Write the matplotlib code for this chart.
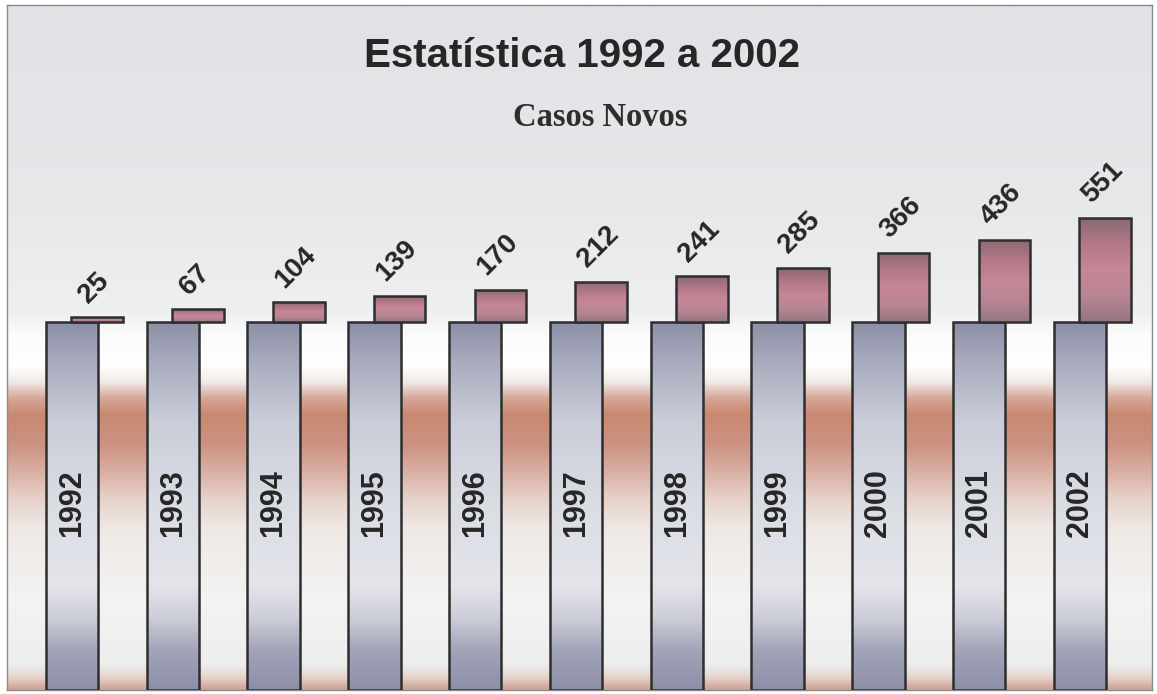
import numpy as np
import matplotlib
matplotlib.use("Agg")
import matplotlib.pyplot as plt
from matplotlib.colors import LinearSegmentedColormap

# --- DATA ---
years = ["1992", "1993", "1994", "1995", "1996", "1997",
         "1998", "1999", "2000", "2001", "2002"]
new_cases = [25, 67, 104, 139, 170, 212, 241, 285, 366, 436, 551]

title = "Estatística 1992 a 2002"
subtitle = "Casos Novos"

# --- LAYOUT (pixels of the 1157x694 canvas) ---
W, H = 1157, 694
AX_L, AX_R, AX_T, AX_B = 7, 1152, 5, 690
PX_PER_CASE = 0.189          # vertical scale of the pink boxes
BASE_TOP_PX = 322            # top of the grey pedestals
FIRST_X_PX, STEP_PX = 72, 100.8

PILLAR_W = 0.52
BOX_W = 0.51
BOX_OFF = 0.25

fig = plt.figure(figsize=(W / 100, H / 100), dpi=100)
ax = fig.add_axes([AX_L / W, 1 - AX_B / H, (AX_R - AX_L) / W, (AX_B - AX_T) / H])

y_top = (BASE_TOP_PX - AX_T) / PX_PER_CASE
y_bot = -(AX_B - BASE_TOP_PX) / PX_PER_CASE
x_lo = (AX_L - FIRST_X_PX) / STEP_PX
x_hi = (AX_R - FIRST_X_PX) / STEP_PX
ax.set_xlim(x_lo, x_hi)
ax.set_ylim(y_bot, y_top)


def px2y(py):
    return (BASE_TOP_PX - py) / PX_PER_CASE


def vgrad(stops):
    """stops: list of (pixel_y, colour) top->bottom -> colormap over 0..1."""
    p0, p1 = stops[0][0], stops[-1][0]
    return LinearSegmentedColormap.from_list(
        "g", [((p - p0) / (p1 - p0), c) for p, c in stops])


# --- BACKGROUND ---
bg_stops = [(5, "#e1e2e5"), (200, "#e7e8ea"), (310, "#eeeff1"), (335, "#fbfbfb"),
            (365, "#ffffff"), (382, "#f1ebe8"), (398, "#d6a899"), (415, "#c98870"),
            (445, "#cc9283"), (470, "#d9ada1"), (500, "#e7d2cb"), (530, "#efe9e6"),
            (600, "#f3f3f3"), (665, "#eeeeee"), (678, "#e6d6cf"), (690, "#d0a595")]
grad = np.linspace(0, 1, 512).reshape(-1, 1)
ax.imshow(grad, cmap=vgrad(bg_stops), aspect="auto", zorder=0,
          extent=[x_lo, x_hi, px2y(690), px2y(5)], interpolation="bilinear")

pillar_cmap = vgrad([(322, "#8c90a6"), (360, "#a8abbd"), (420, "#cacdd8"),
                     (500, "#dadce4"), (585, "#e4e5eb"), (620, "#cbccd8"),
                     (650, "#a2a5b9"), (690, "#8d8fa7")])
box_cmap = LinearSegmentedColormap.from_list(
    "box", ["#876970", "#b27888", "#c68797", "#b98593", "#937780"])

x = np.arange(len(years))
SANS = ["Liberation Sans", "DejaVu Sans"]

# --- GREY PEDESTALS ---
pillars = ax.bar(x, 0 - y_bot, bottom=y_bot, width=PILLAR_W,
                 facecolor="none", edgecolor="#2e2e2e", linewidth=1.8, zorder=3)
for i, p in enumerate(pillars):
    im = ax.imshow(grad, cmap=pillar_cmap, aspect="auto", zorder=2,
                   extent=[x[i] - PILLAR_W / 2, x[i] + PILLAR_W / 2, y_bot, 0],
                   interpolation="bilinear")
    im.set_clip_path(p)
    ax.text(x[i], px2y(503), years[i], rotation=90, ha="center", va="center",
            fontsize=22, fontweight="bold", color="#262626", family=SANS, zorder=4)

# --- PINK BOXES (new cases) ---
boxes = ax.bar(x + BOX_OFF, new_cases, bottom=0, width=BOX_W,
               facecolor="none", edgecolor="#2e2e2e", linewidth=1.8, zorder=5)
for i, b in enumerate(boxes):
    im = ax.imshow(grad, cmap=box_cmap, aspect="auto", zorder=4.5,
                   extent=[x[i] + BOX_OFF - BOX_W / 2, x[i] + BOX_OFF + BOX_W / 2,
                           0, new_cases[i]], interpolation="bilinear")
    im.set_clip_path(b)
    ax.text(x[i] + BOX_OFF - 0.03, new_cases[i] + 50, str(new_cases[i]),
            rotation=45, ha="center", va="bottom",
            fontsize=20, fontweight="bold", color="#262626", family=SANS, zorder=6)

ax.set_xticks([])
ax.set_yticks([])
for s in ax.spines.values():
    s.set_color("#8a8a8a")
    s.set_linewidth(1.0)

# --- TITLES ---
fig.text(582 / W, 1 - 56 / H, title, ha="center", va="center",
         fontsize=29, fontweight="bold", color="#262626", family=SANS)
fig.text(600 / W, 1 - 118 / H, subtitle, ha="center", va="center",
         fontsize=23.5, fontweight="bold", color="#2e2e2e",
         family=["Liberation Serif", "DejaVu Serif"])

fig.savefig("out.png", dpi=100, facecolor="white")
